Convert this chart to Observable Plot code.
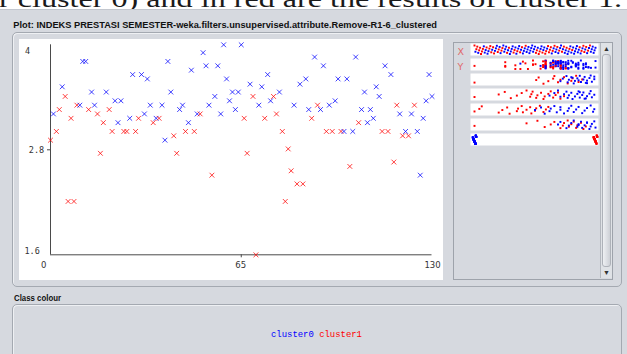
<!DOCTYPE html>
<html><head><meta charset="utf-8">
<script src="https://cdn.jsdelivr.net/npm/d3@7"></script>
<script src="https://cdn.jsdelivr.net/npm/@observablehq/plot@0.6"></script>
<style>
html,body{margin:0;padding:0;}
body{width:627px;height:354px;overflow:hidden;background:#d6d9df;position:relative;font-family:"Liberation Sans",Arial,sans-serif;}
.abs{position:absolute;}
#top{left:0;top:0;width:627px;height:9px;background:#fff;border-bottom:1px solid #c3c7ce;}
#panel{left:12px;top:32px;width:608px;height:253px;border:1px solid #a4a9b1;border-radius:5px;box-shadow:inset 1px 1px 0 #eef0f3;}
#plotbox{left:19px;top:39px;width:424px;height:241px;background:#fff;}
#side{left:453px;top:42px;width:158px;height:236px;border:1px solid #9ea3ab;}
#strips{left:470px;top:43px;width:128px;height:103px;}
#scroll{left:600px;top:43px;width:11px;height:235px;border-left:1px solid #b3b7be;background:#dfe2e6;}
#thumb{left:1px;top:11px;width:9px;height:213px;border:1px solid #aeb2b9;border-radius:3px;background:linear-gradient(to right,#eef0f3,#cdd0d6);box-sizing:border-box;}
.arr{position:absolute;left:0;width:11px;height:11px;font-size:7px;line-height:11px;text-align:center;color:#333;}
#bottom{left:12px;top:304px;width:608px;height:70px;border:1px solid #a4a9b1;border-radius:5px;box-shadow:inset 1px 1px 0 #eef0f3;}
#chrome{position:absolute;left:0;top:0;pointer-events:none;}
</style></head>
<body>
<div id="top" class="abs"></div>
<div id="panel" class="abs"></div>
<div id="plotbox" class="abs"></div>
<div id="side" class="abs"></div>
<div id="strips" class="abs"></div>
<div id="scroll" class="abs"><div class="arr" style="top:0;">&#9650;</div><div id="thumb" class="abs"></div><div class="arr" style="top:224px;">&#9660;</div></div>
<div id="bottom" class="abs"></div>
<svg id="chrome" width="627" height="354">
  <defs><clipPath id="topclip"><rect x="0" y="0" width="627" height="9"></rect></clipPath></defs>
  <text clip-path="url(#topclip)" x="-1" y="7.3" font-family="Liberation Serif, serif" font-size="24" fill="#1a1a1a" textLength="623" lengthAdjust="spacingAndGlyphs">r cluster 0) and in red are the results of cluster 1.</text>
  <text x="13.3" y="28.3" font-family="Liberation Sans, Arial, sans-serif" font-weight="bold" font-size="9.5" fill="#111" textLength="423.7" lengthAdjust="spacingAndGlyphs">Plot: INDEKS PRESTASI SEMESTER-weka.filters.unsupervised.attribute.Remove-R1-6_clustered</text>
  <text x="457.5" y="55" font-family="DejaVu Sans, sans-serif" font-size="9.5" fill="#e06a6a">X</text>
  <text x="457.5" y="69.5" font-family="DejaVu Sans, sans-serif" font-size="9.5" fill="#e06a6a">Y</text>
  <text x="14" y="301" font-family="Liberation Sans, Arial, sans-serif" font-weight="bold" font-size="9.5" fill="#111" textLength="47" lengthAdjust="spacingAndGlyphs">Class colour</text>
  <text id="legend" x="271" y="337" font-family="Liberation Mono, monospace" font-size="9" textLength="91" lengthAdjust="spacingAndGlyphs"></text>
</svg>
<script>
// ---- data: instance number (index) vs INDEKS PRESTASI SEMESTER, with cluster assignment
const ips = [2.91,3.21,3.01,3.26,3.52,3.41,2.21,3.16,2.21,3.31,
 3.31,3.81,3.81,3.26,3.46,3.31,3.21,2.76,3.11,3.46,
 3.26,3.01,3.36,3.11,3.36,3.01,3.01,3.16,3.66,3.01,
 3.16,3.66,3.21,3.61,3.31,3.11,3.16,3.16,3.31,2.91,
 3.81,3.46,2.96,2.76,3.26,3.31,3.01,3.11,3.71,3.01,
 3.21,3.21,3.91,3.76,3.31,2.51,3.41,3.76,3.21,4.00,
 3.61,3.36,3.46,3.26,3.46,4.00,3.16,2.76,3.55,3.41,
 1.60,3.31,3.52,3.16,3.66,3.36,3.41,3.21,3.46,3.01,
 2.21,2.81,2.56,3.31,2.41,3.55,2.41,3.61,3.26,3.16,
 3.86,3.31,3.26,3.76,3.01,3.31,3.01,3.36,3.61,3.01,
 3.01,3.61,2.61,3.01,3.86,3.11,3.26,3.46,3.11,3.26,
 3.16,3.52,3.41,3.01,3.76,3.01,3.66,2.66,3.31,3.21,
 2.96,3.01,2.96,3.21,3.31,3.01,2.51,3.16,3.36,3.66,
 3.41];
const cluster = [1,0,1,1,0,1,1,1,1,1,
 0,0,0,1,0,0,1,1,1,0,
 1,1,0,0,0,1,1,0,0,1,
 1,0,0,0,0,1,0,1,0,0,
 0,0,1,1,0,0,1,0,0,1,
 0,1,0,0,0,1,0,0,0,0,
 0,0,0,0,0,0,1,1,0,1,
 1,0,0,1,0,0,1,1,0,1,
 1,1,1,0,1,0,1,0,0,1,
 0,1,0,0,1,0,1,0,0,1,
 0,0,1,0,0,1,0,0,0,0,
 0,0,0,1,0,1,0,1,1,0,
 1,0,1,0,1,0,0,0,0,0,
 0];
const clusterNames = ["cluster0","cluster1"];
const clusterColors = ["#0000ff","#ff0000"];
const yTicks = [4, 2.8, 1.6];
const yTickLabels = ["4", "2.8", "1.6"];
const xTicks = [0, 65, 130];
const xTickLabels = ["0", "65", "130"];

// attribute strips (normalised attribute value)
const strip3Red = [0,.51,.53,.57,.61,.65,.66,.69,.71,.74,.77,.80,.81,.84,.86,.89];
const strip3Blue = [.71,.73,.76,.77,.78,.80,.82,.83,.85,.87,.88,.90,.91,.93,.93,.95,.96,.97,.99,.99,.92,.86,.81];
const strip4Red = [0,.20,.25,.30,.35,.39,.43,.46,.47,.48,.51,.52,.55,.57,.58,.61,.63,.65,.67,.69,.71,.74];
const strip4Blue = [.62,.66,.69,.71,.74,.76,.77,.78,.80,.81,.83,.85,.86,.87,.89,.90,.91,.93,.95,.96,.97,.99,.87,.92];
const strip5Red = [0,.04,.06,.20,.23,.27,.29,.35,.36,.39,.40,.43,.46,.47,.50,.51,.54,.57,.59,.61];
const strip5Blue = [.50,.55,.58,.62,.63,.66,.68,.71,.71,.74,.77,.78,.80,.82,.84,.86,.89,.91,.93,.96,.98,.99];
const strip6Red = [0,.43,.52,.58,.63,.66,.71,.73,.74,.77,.78,.80,.82,.84,.85,.88,.90,.92];
const strip6Blue = [.69,.71,.76,.78,.80,.82,.85,.86,.88,.89,.91,.93,.95,.96,.97,.99,1,.86,.93];

// ---- main scatter
const pts = ips.map((v, i) => ({x: i, y: v, c: cluster[i]}));
const yt = yTicks.map((v, i) => ({v, t: yTickLabels[i]}));
const xt = xTicks.map((v, i) => ({v, t: xTickLabels[i]}));
const axisCol = "#4a4a4a", labCol = "#333";
const main = Plot.plot({
  width: 424, height: 241,
  marginLeft: 31, marginRight: 11.5, marginTop: 5.3, marginBottom: 25.7,
  style: {background: "#fff", overflow: "visible"},
  x: {domain: [0, 130]},
  y: {domain: [1.6, 4]},
  marks: [
    Plot.ruleX([0], {y1: 1.6, y2: 4, stroke: axisCol}),
    Plot.ruleY([1.6], {x1: 0, x2: 130, stroke: axisCol}),
    Plot.axisY({ticks: [2.8], tickSize: 3, tickFormat: () => "", anchor: "left", stroke: axisCol, label: null}),
    Plot.axisX({ticks: [65], tickSize: 3, tickFormat: () => "", anchor: "bottom", stroke: axisCol, label: null}),
    Plot.text(yt.slice(0,1), {x: 0, y: "v", text: "t", dx: -25.5, dy: 6.2, textAnchor: "start", fontFamily: "DejaVu Sans Mono", fontSize: 8.5, fill: labCol}),
    Plot.text(yt.slice(1,2), {x: 0, y: "v", text: "t", dx: -21.7, dy: 0.7, textAnchor: "start", fontFamily: "DejaVu Sans Mono", fontSize: 8.5, fill: labCol}),
    Plot.text(yt.slice(2,3), {x: 0, y: "v", text: "t", dx: -26, dy: -3.3, textAnchor: "start", fontFamily: "DejaVu Sans Mono", fontSize: 8.5, fill: labCol}),
    Plot.text(xt.slice(0,1), {x: "v", y: 1.6, text: "t", dx: -6.7, dy: 10.2, fontFamily: "DejaVu Sans", fontSize: 8.5, fill: labCol}),
    Plot.text(xt.slice(1,2), {x: "v", y: 1.6, text: "t", dx: -0.5, dy: 10.2, fontFamily: "DejaVu Sans", fontSize: 8.5, fill: labCol}),
    Plot.text(xt.slice(2,3), {x: "v", y: 1.6, text: "t", dx: 0.5, dy: 10.2, fontFamily: "DejaVu Sans", fontSize: 8.5, fill: labCol}),
    Plot.dot(pts, {x: "x", y: "y", symbol: "times", r: 2.3, strokeWidth: 1, strokeOpacity: 0.75, stroke: d => clusterColors[d.c]})
  ]
});
document.getElementById("plotbox").appendChild(main);

// ---- attribute strips
const jit = (i, s) => ((i * 53 + s * 29) % 31) / 30;
const sd = [];
ips.forEach((v, i) => {
  sd.push({s: 0, v: i / 130, j: jit(i, 0), c: cluster[i]});
  sd.push({s: 1, v: (v - 1.6) / 2.4, j: jit(i, 1), c: cluster[i]});
  sd.push({s: 6, v: cluster[i] + (jit(i, 9) - 0.5) * 0.03, j: jit(i, 6), c: cluster[i]});
});
[[strip3Red, strip3Blue], [strip4Red, strip4Blue], [strip5Red, strip5Blue], [strip6Red, strip6Blue]].forEach(([r, b], k) => {
  r.forEach((v, i) => sd.push({s: k + 2, v, j: jit(i, k + 3), c: 1}));
  b.forEach((v, i) => sd.push({s: k + 2, v, j: jit(i + 7, k + 5), c: 0}));
});
const strips = Plot.plot({
  width: 128, height: 103,
  margin: 0,
  x: {domain: [0, 1], range: [4, 125], axis: null},
  y: {domain: [0, 1], range: [2, 10.5], axis: null},
  fy: {domain: [0,1,2,3,4,5,6], paddingInner: 0.18, paddingOuter: 0, axis: null},
  style: {background: "transparent", overflow: "visible"},
  marks: [
    Plot.frame({fill: "#fff", stroke: "none"}),
    Plot.dot(sd, {x: "v", y: "j", fy: "s", symbol: "square", r: 1.1, fill: d => clusterColors[d.c], stroke: "none"})
  ]
});
document.getElementById("strips").appendChild(strips);

// ---- legend
const lg = document.getElementById("legend");
clusterNames.forEach((n, i) => {
  const sp = document.createElementNS("http://www.w3.org/2000/svg", "tspan");
  sp.textContent = n + (i < clusterNames.length - 1 ? " " : "");
  sp.setAttribute("fill", clusterColors[i]);
  sp.setAttribute("xml:space", "preserve");
  lg.appendChild(sp);
});
lg.setAttribute("style", "white-space:pre");
</script>
</body></html>
